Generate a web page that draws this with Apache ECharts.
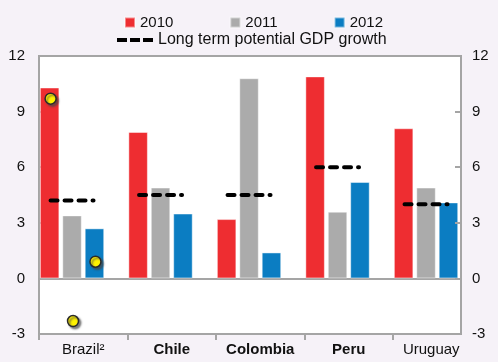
<!DOCTYPE html>
<html>
<head>
<meta charset="utf-8">
<script src="https://cdn.jsdelivr.net/npm/echarts@6/dist/echarts.min.js"></script>
<style>
  html, body { margin: 0; padding: 0; background: #F6F2F8; }
  #chart { width: 498px; height: 362px; }
</style>
</head>
<body>
<div id="chart"></div>
<script>
// Real GDP growth by country, %
const categories = ['Brazil²', 'Chile', 'Colombia', 'Peru', 'Uruguay'];
const growth2010 = [10.3, 7.9, 3.2, 10.9, 8.1];
const growth2011 = [3.4, 4.9, 10.8, 3.6, 4.9];
const growth2012 = [2.7, 3.5, 1.4, 5.2, 4.1];
// Long term potential GDP growth
const potential = [4.2, 4.5, 4.5, 6.0, 4.0];
// Brazil markers for 2010, 2011, 2012
const brazilMarkers = [9.7, -2.3, 0.9];
const yTicks = [-3, 0, 3, 6, 9, 12];

const FONT = "'Liberation Sans', Arial, sans-serif";
const BG = '#F6F2F8';
const AXIS_GRAY = '#A5A5A5';
const BAR_W = 19.5;
const GAP_RATIO = 0.15;
const SLOT = BAR_W * (1 + GAP_RATIO);   // distance between neighbouring bar centres
const SLOTS = 4;                          // three years plus one empty slot

function slotCenter(x, k) {
  return x + (k - (SLOTS - 1) / 2) * SLOT;
}

const chart = echarts.init(document.getElementById('chart'), null, { renderer: 'canvas' });

const barBorder = { borderColor: 'rgba(255,255,255,0.45)', borderWidth: 1 };

const option = {
  backgroundColor: BG,
  animation: false,
  textStyle: { fontFamily: FONT },
  legend: [
    {
      data: ['2010', '2011', '2012'],
      left: 124, top: 15, padding: 0,
      icon: 'rect',
      itemWidth: 10, itemHeight: 10, itemGap: 56,
      textStyle: { fontSize: 15, color: '#111', fontFamily: FONT }
    },
    {
      data: [{ name: 'Long term potential GDP growth',
               icon: 'path://M0,0h10v4h-10z M13,0h10v4h-10z M26,0h10v4h-10z' }],
      left: 117, top: 32, padding: 0,
      itemWidth: 36, itemHeight: 4,
      textStyle: { fontSize: 16, color: '#111', fontFamily: FONT }
    }
  ],
  grid: [
    // bar layout grid: five equal bands
    { left: 39, top: 56, width: 442.5, height: 278, show: false },
    // visible plot frame and right axis
    { left: 39, top: 56, width: 422, height: 278, show: true,
      backgroundColor: '#FFFFFF', borderColor: AXIS_GRAY, borderWidth: 2 }
  ],
  xAxis: [
    {
      type: 'category', gridIndex: 0, data: categories, boundaryGap: true,
      axisLine: { onZero: false, lineStyle: { color: AXIS_GRAY, width: 2 } },
      axisTick: { show: true, inside: false, length: 6, interval: 0,
                  lineStyle: { color: AXIS_GRAY, width: 2 } },
      axisLabel: {
        interval: 0, margin: 8,
        formatter: v => (v === 'Chile' || v === 'Colombia' || v === 'Peru')
          ? '{b|' + v + '}' : (v === 'Uruguay' ? '{u|' + v + '}' : '{n|' + v + '}'),
        rich: {
          n: { fontSize: 15, color: '#111', fontFamily: FONT },
          b: { fontSize: 15, color: '#111', fontFamily: FONT, fontWeight: 'bold' },
          u: { fontSize: 15, color: '#111', fontFamily: FONT, padding: [0, 12, 0, 0] }
        }
      },
      splitLine: { show: false }
    },
    {
      type: 'category', gridIndex: 1, data: categories,
      axisLine: { show: true, onZero: true, lineStyle: { color: AXIS_GRAY, width: 2 } },
      axisTick: { show: false }, axisLabel: { show: false }, splitLine: { show: false }
    }
  ],
  yAxis: [
    {
      type: 'value', gridIndex: 0, position: 'left',
      min: yTicks[0], max: yTicks[yTicks.length - 1], interval: 3,
      axisLine: { show: true, lineStyle: { color: AXIS_GRAY, width: 2 } },
      axisTick: { show: true, inside: true, length: 6, lineStyle: { color: AXIS_GRAY, width: 2 } },
      axisLabel: { fontSize: 15, color: '#111', margin: 14, fontFamily: FONT },
      splitLine: { show: false }
    },
    {
      type: 'value', gridIndex: 1, position: 'right', z: 10,
      min: yTicks[0], max: yTicks[yTicks.length - 1], interval: 3,
      axisLine: { show: true, lineStyle: { color: AXIS_GRAY, width: 2 } },
      axisTick: { show: true, inside: true, length: 6, lineStyle: { color: AXIS_GRAY, width: 2 } },
      axisLabel: { fontSize: 15, color: '#111', margin: 11, fontFamily: FONT },
      splitLine: { show: false }
    }
  ],
  graphic: [
    // trims the bar bands back to the plot frame on the right
    { type: 'rect', z: 8, silent: true,
      shape: { x: 462, y: 48, width: 24, height: 294 },
      style: { fill: BG } }
  ],
  series: [
    { name: '2010', type: 'bar', xAxisIndex: 0, yAxisIndex: 0, data: growth2010,
      barWidth: BAR_W, barGap: (GAP_RATIO * 100) + '%',
      itemStyle: Object.assign({ color: '#EE2D31' }, barBorder) },
    { name: '2011', type: 'bar', xAxisIndex: 0, yAxisIndex: 0, data: growth2011,
      barWidth: BAR_W, barGap: (GAP_RATIO * 100) + '%',
      itemStyle: Object.assign({ color: '#ABABAB' }, barBorder) },
    { name: '2012', type: 'bar', xAxisIndex: 0, yAxisIndex: 0, data: growth2012,
      barWidth: BAR_W, barGap: (GAP_RATIO * 100) + '%',
      itemStyle: Object.assign({ color: '#0B7DC2' }, barBorder) },
    { name: 'spacer', type: 'bar', xAxisIndex: 0, yAxisIndex: 0,
      data: categories.map(() => null),
      barWidth: BAR_W, barGap: (GAP_RATIO * 100) + '%' },
    {
      name: 'Long term potential GDP growth', type: 'custom',
      xAxisIndex: 0, yAxisIndex: 0, z: 4,
      itemStyle: { color: '#000' },
      data: categories.map((c, i) => [c, potential[i]]),
      encode: { x: 0, y: 1 },
      renderItem: function (params, api) {
        const p = api.coord([api.value(0), api.value(1)]);
        const cx = slotCenter(p[0], 1);
        const half = 21.5;
        return {
          type: 'line',
          shape: { x1: cx - half, y1: p[1], x2: cx + half, y2: p[1] },
          style: { stroke: '#000', lineWidth: 4, lineDash: [7, 7], lineCap: 'round' }
        };
      }
    },
    {
      name: 'Brazil markers', type: 'custom',
      xAxisIndex: 0, yAxisIndex: 0, z: 5,
      data: brazilMarkers.map((v, k) => [categories[0], v, k]),
      encode: { x: 0, y: 1 },
      renderItem: function (params, api) {
        const p = api.coord([api.value(0), api.value(1)]);
        const cx = slotCenter(p[0], api.value(2));
        return {
          type: 'circle',
          shape: { cx: cx + 1, cy: p[1], r: 5.5 },
          style: {
            fill: '#FFF200', stroke: '#2A2A2A', lineWidth: 1.5,
            shadowColor: 'rgba(70,70,70,0.7)', shadowBlur: 2,
            shadowOffsetX: 2, shadowOffsetY: 2
          }
        };
      }
    }
  ]
};

chart.setOption(option);
</script>
</body>
</html>
